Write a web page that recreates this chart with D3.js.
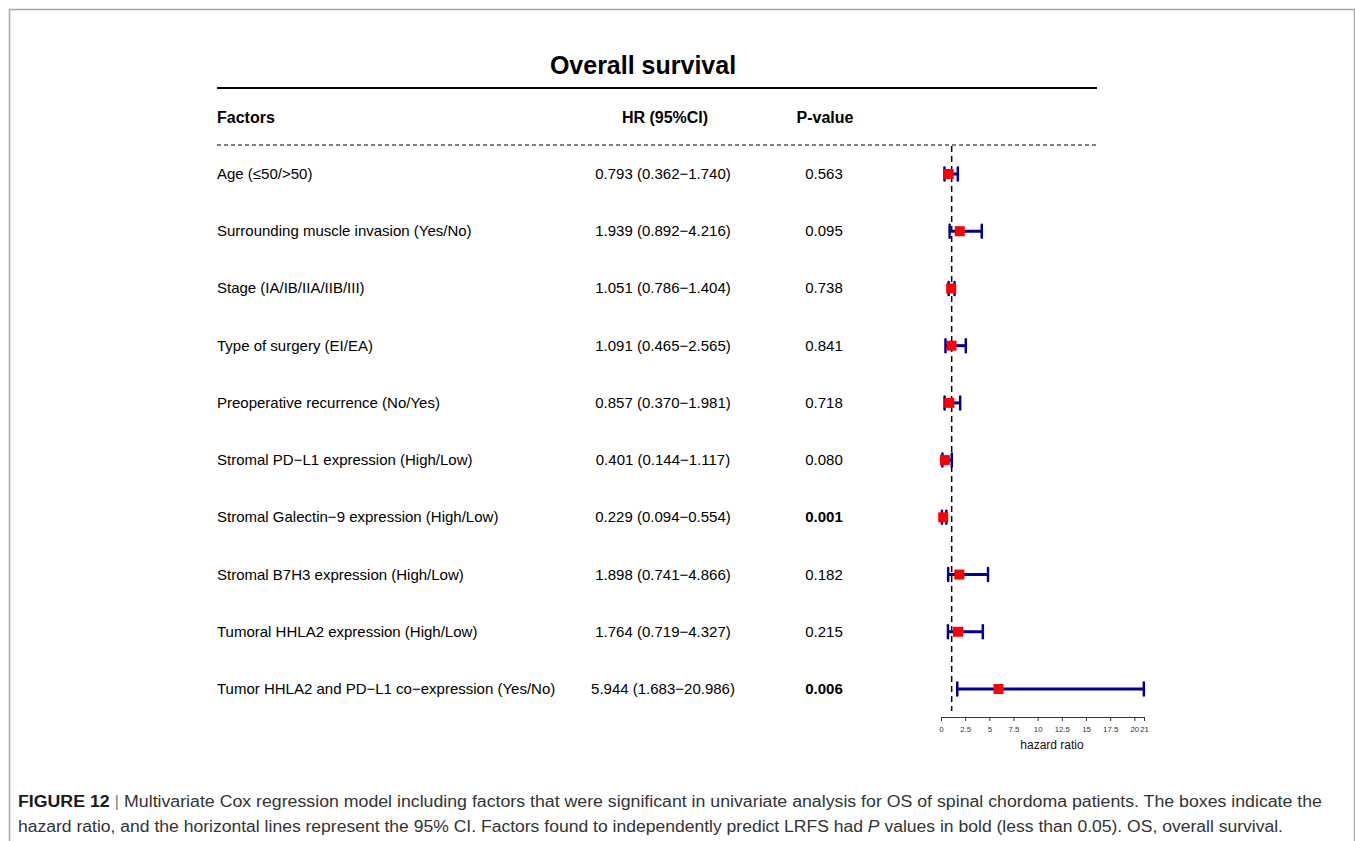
<!DOCTYPE html>
<html>
<head>
<meta charset="utf-8">
<script src="https://cdn.jsdelivr.net/npm/d3@7"></script>
<style>
  html, body { margin: 0; padding: 0; background: #fff; }
  svg { display: block; font-family: "Liberation Sans", Arial, sans-serif; }
</style>
</head>
<body>
<svg id="chart" width="1355" height="841"></svg>
<script>
// Multivariate Cox regression: overall survival
const factors = [
  "Age (≤50/>50)",
  "Surrounding muscle invasion (Yes/No)",
  "Stage (IA/IB/IIA/IIB/III)",
  "Type of surgery (EI/EA)",
  "Preoperative recurrence (No/Yes)",
  "Stromal PD−L1 expression (High/Low)",
  "Stromal Galectin−9 expression (High/Low)",
  "Stromal B7H3 expression (High/Low)",
  "Tumoral HHLA2 expression (High/Low)",
  "Tumor HHLA2 and PD−L1 co−expression (Yes/No)"
];
const hr    = [0.793, 1.939, 1.051, 1.091, 0.857, 0.401, 0.229, 1.898, 1.764, 5.944];
const lower = [0.362, 0.892, 0.786, 0.465, 0.370, 0.144, 0.094, 0.741, 0.719, 1.683];
const upper = [1.740, 4.216, 1.404, 2.565, 1.981, 1.117, 0.554, 4.866, 4.327, 20.986];
const pValues = ["0.563", "0.095", "0.738", "0.841", "0.718", "0.080", "0.001", "0.182", "0.215", "0.006"];
const tickValues = [0, 2.5, 5, 7.5, 10, 12.5, 15, 17.5, 20, 21];

const rows = factors.map((f, i) => ({
  factor: f, hr: hr[i], lo: lower[i], hi: upper[i], p: pValues[i]
}));

const svg = d3.select("#chart");
const f3 = d3.format(".3f");
const hrLabel = d => `${f3(d.hr)} (${f3(d.lo)}\u2212${f3(d.hi)})`;

// Page frame
svg.append("path")
  .attr("d", "M9.5,841 V9.5 H1354.5 V841")
  .attr("fill", "none").attr("stroke", "#a8a8a8").attr("stroke-width", 1.5);

// Scales
const y = d3.scalePoint().domain(factors).range([174, 689]);
const x = d3.scaleLinear().domain([0, 21]).range([941, 1144]);

const tableLeft = 217, tableRight = 1097;
const hrCol = 663, pCol = 824;

// Title and rules
svg.append("text")
  .attr("x", 643).attr("y", 65).attr("text-anchor", "middle")
  .attr("dominant-baseline", "central")
  .attr("font-size", 25).attr("font-weight", "bold").attr("fill", "#000")
  .text("Overall survival");

svg.append("line")
  .attr("x1", tableLeft).attr("x2", tableRight).attr("y1", 88).attr("y2", 88)
  .attr("stroke", "#000").attr("stroke-width", 2);

const header = svg.append("g")
  .attr("font-size", 16).attr("font-weight", "bold");
header.append("text").attr("x", tableLeft).attr("y", 117).attr("dominant-baseline", "central").text("Factors");
header.append("text").attr("x", hrCol + 2).attr("y", 117).attr("text-anchor", "middle").attr("dominant-baseline", "central").text("HR (95%CI)");
header.append("text").attr("x", pCol + 1).attr("y", 117).attr("text-anchor", "middle").attr("dominant-baseline", "central").text("P-value");

svg.append("line")
  .attr("x1", tableLeft).attr("x2", tableRight).attr("y1", 145).attr("y2", 145)
  .attr("stroke", "#000").attr("stroke-width", 1).attr("stroke-dasharray", "4,3");

// Table rows
const rowG = svg.append("g").selectAll("g.row").data(rows).join("g")
  .attr("class", "row")
  .attr("transform", d => `translate(0,${y(d.factor) - 0.5})`)
  .attr("font-size", 15).attr("fill", "#000");

rowG.append("text").attr("x", tableLeft).attr("dominant-baseline", "central").text(d => d.factor);
rowG.append("text").attr("x", hrCol).attr("text-anchor", "middle").attr("dominant-baseline", "central").text(hrLabel);
rowG.append("text").attr("x", pCol).attr("text-anchor", "middle").attr("dominant-baseline", "central")
  .attr("font-weight", d => (+d.p < 0.05 ? "bold" : "normal"))
  .text(d => d.p);

// Reference line at HR = 1
svg.append("line")
  .attr("x1", x(1) + 1).attr("x2", x(1) + 1).attr("y1", 146).attr("y2", 711)
  .attr("stroke", "#000").attr("stroke-width", 1.5).attr("stroke-dasharray", "6,4");

// Confidence intervals and point estimates
const ciColor = "#00008b";
const cap = 6.5;
const marks = svg.append("g").selectAll("g.mark").data(rows).join("g")
  .attr("class", "mark")
  .attr("transform", d => `translate(0,${y(d.factor)})`);

marks.append("line")
  .attr("x1", d => x(d.lo)).attr("x2", d => x(d.hi))
  .attr("stroke", ciColor).attr("stroke-width", 3);
marks.append("line")
  .attr("x1", d => x(d.lo)).attr("x2", d => x(d.lo)).attr("y1", -cap).attr("y2", cap)
  .attr("stroke", ciColor).attr("stroke-width", 2.5).attr("stroke-linecap", "round");
marks.append("line")
  .attr("x1", d => x(d.hi)).attr("x2", d => x(d.hi)).attr("y1", -cap).attr("y2", cap)
  .attr("stroke", ciColor).attr("stroke-width", 2.5).attr("stroke-linecap", "round");
marks.append("rect")
  .attr("x", d => x(d.hr) - 5).attr("y", -5).attr("width", 10).attr("height", 10)
  .attr("fill", "#ff0000");

// Hazard ratio axis
const axis = svg.append("g")
  .attr("transform", "translate(0,717)")
  .call(d3.axisBottom(x).tickValues(tickValues).tickFormat(d => String(d)).tickSize(4).tickPadding(5));
axis.select(".domain").attr("stroke", "#333");
axis.selectAll(".tick line").attr("stroke", "#333");
axis.selectAll(".tick text").attr("font-size", 7.8).attr("fill", "#333")
  .attr("font-family", "\"Liberation Sans\", Arial, sans-serif");

svg.append("text")
  .attr("x", 1052).attr("y", 745).attr("text-anchor", "middle").attr("dominant-baseline", "central")
  .attr("font-size", 12).attr("fill", "#111").text("hazard ratio");

// Figure caption
const cap1 = svg.append("text")
  .attr("x", 18).attr("y", 807).attr("font-size", 16).attr("fill", "#333")
  .attr("textLength", 1304).attr("lengthAdjust", "spacingAndGlyphs");
cap1.append("tspan").attr("font-weight", "bold").attr("fill", "#1a1a1a").text("FIGURE 12");
cap1.append("tspan").attr("fill", "#888").text(" | ");
cap1.append("tspan").text("Multivariate Cox regression model including factors that were significant in univariate analysis for OS of spinal chordoma patients. The boxes indicate the");

const cap2 = svg.append("text")
  .attr("x", 18).attr("y", 832).attr("font-size", 16).attr("fill", "#333")
  .attr("textLength", 1265).attr("lengthAdjust", "spacingAndGlyphs");
cap2.append("tspan").text("hazard ratio, and the horizontal lines represent the 95% CI. Factors found to independently predict LRFS had ");
cap2.append("tspan").attr("font-style", "italic").text("P");
cap2.append("tspan").text(" values in bold (less than 0.05). OS, overall survival.");
</script>
</body>
</html>
